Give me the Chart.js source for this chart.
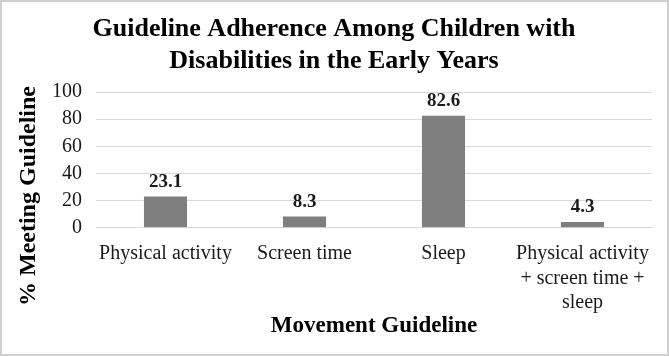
<!DOCTYPE html>
<html>
<head>
<meta charset="utf-8">
<script src="https://cdn.jsdelivr.net/npm/chart.js@4"></script>
<style>
  html, body { margin: 0; padding: 0; background: #fff; }
  #wrap { width: 669px; height: 356px; }
</style>
</head>
<body>
<div id="wrap"><canvas id="grafico" width="669" height="356"></canvas></div>
<script>
const categorias = ['Physical activity', 'Screen time', 'Sleep', ['Physical activity', '+ screen time +', 'sleep']];
const valores = [23.1, 8.3, 82.6, 4.3];
const ticksY = [0, 20, 40, 60, 80, 100];
const titulo = ['Guideline Adherence Among Children with', 'Disabilities in the Early Years'];
const tituloX = 'Movement Guideline';
const tituloY = '% Meeting Guideline';

const serif = "'Liberation Serif', 'Times New Roman', serif";

// título, etiquetas sobre las barras, títulos de ejes y marco
const extras = {
  id: 'extras',
  afterDatasetsDraw(chart) {
    const { ctx, chartArea } = chart;
    const meta = chart.getDatasetMeta(0);

    ctx.save();
    ctx.fillStyle = '#000';
    ctx.font = 'bold 26px ' + serif;
    ctx.textAlign = 'center';
    ctx.textBaseline = 'middle';
    titulo.forEach((linea, i) => ctx.fillText(linea, 334, 29 + i * 32));
    ctx.restore();

    ctx.save();
    ctx.fillStyle = '#1a1a1a';
    ctx.font = 'bold 19px ' + serif;
    ctx.textAlign = 'center';
    ctx.textBaseline = 'bottom';
    meta.data.forEach((bar, i) => {
      ctx.fillText(valores[i].toFixed(1), bar.x, bar.y - 5);
    });
    ctx.restore();

    ctx.save();
    ctx.fillStyle = '#000';
    ctx.font = 'bold 23px ' + serif;
    ctx.textAlign = 'center';
    ctx.textBaseline = 'middle';
    ctx.fillText(tituloX, (chartArea.left + chartArea.right) / 2, 326);
    ctx.translate(29, 196);
    ctx.rotate(-Math.PI / 2);
    ctx.font = 'bold 24px ' + serif;
    ctx.fillText(tituloY, 0, 0);
    ctx.restore();

    ctx.save();
    ctx.strokeStyle = '#d0d0d0';
    ctx.lineWidth = 2;
    ctx.strokeRect(1, 1, chart.width - 2, chart.height - 2);
    ctx.restore();
  }
};

const ctx = document.getElementById('grafico').getContext('2d');
new Chart(ctx, {
  type: 'bar',
  data: {
    labels: categorias,
    datasets: [{
      data: valores,
      backgroundColor: '#7f7f7f',
      barPercentage: 0.62,
      categoryPercentage: 0.5
    }]
  },
  options: {
    responsive: false,
    animation: false,
    layout: { padding: { left: 0, right: 17, top: 92, bottom: 27 } },
    plugins: {
      legend: { display: false },
      tooltip: { enabled: false },
      title: { display: false }
    },
    scales: {
      x: {
        grid: { display: false, drawTicks: false },
        border: { color: '#d9d9d9' },
        ticks: {
          color: '#1a1a1a',
          padding: 14,
          maxRotation: 0,
          autoSkip: false,
          font: { family: serif, size: 20, lineHeight: 1.22 }
        }
      },
      y: {
        min: 0,
        max: 100,
        afterFit(scale) { scale.width = 96; },
        afterBuildTicks(scale) { scale.ticks = ticksY.map(v => ({ value: v })); },
        grid: { color: '#d9d9d9', drawTicks: false },
        border: { display: false },
        ticks: {
          color: '#1a1a1a',
          padding: 14,
          autoSkip: false,
          font: { family: serif, size: 20 }
        }
      }
    }
  },
  plugins: [extras]
});
</script>
</body>
</html>
